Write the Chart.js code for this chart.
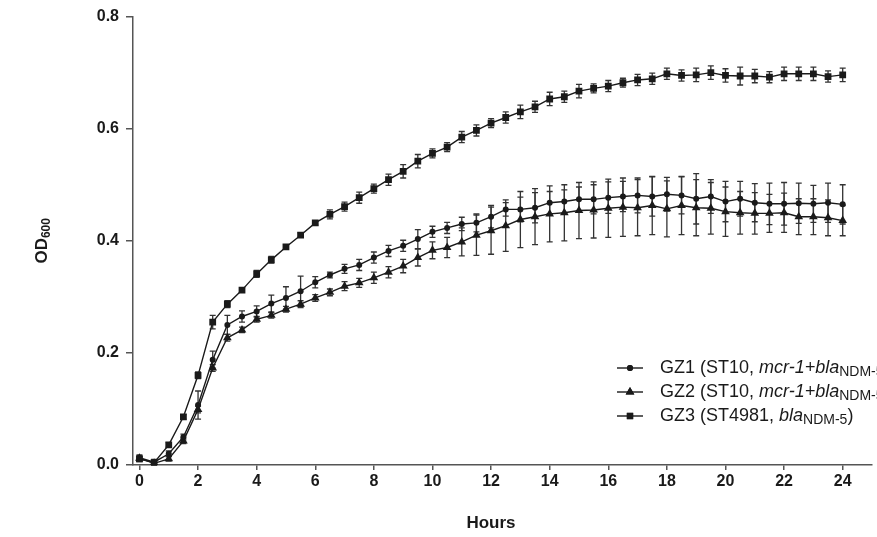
<!DOCTYPE html>
<html>
<head>
<meta charset="utf-8">
<script src="https://cdn.jsdelivr.net/npm/chart.js@4"></script>
<style>
  html, body { margin: 0; padding: 0; background: #fff; overflow: hidden; }
  #wrap { width: 877px; height: 537px; }
</style>
</head>
<body>
<div id="wrap"><canvas id="myChart" width="877" height="537"></canvas></div>
<script>
// sampling times (h)
const hours = [0, 0.5, 1, 1.5, 2, 2.5, 3, 3.5, 4, 4.5, 5, 5.5, 6, 6.5, 7, 7.5, 8, 8.5, 9, 9.5,
  10, 10.5, 11, 11.5, 12, 12.5, 13, 13.5, 14, 14.5, 15, 15.5, 16, 16.5, 17, 17.5, 18, 18.5, 19, 19.5,
  20, 20.5, 21, 21.5, 22, 22.5, 23, 23.5, 24];

// OD600 means
const gz1 = [0.013, 0.005, 0.02, 0.05, 0.107, 0.188, 0.25, 0.265, 0.274, 0.288, 0.298, 0.31,
  0.326, 0.339, 0.35, 0.357, 0.37, 0.382, 0.391, 0.403, 0.416, 0.423, 0.43, 0.432,
  0.443, 0.456, 0.456, 0.459, 0.468, 0.47, 0.474, 0.474, 0.477, 0.479, 0.481, 0.479,
  0.483, 0.481, 0.475, 0.479, 0.47, 0.475, 0.468, 0.466, 0.466, 0.467, 0.466, 0.468, 0.465];
const gz2 = [0.012, 0.003, 0.011, 0.043, 0.099, 0.173, 0.227, 0.241, 0.26, 0.267, 0.278, 0.287,
  0.298, 0.308, 0.319, 0.325, 0.334, 0.344, 0.355, 0.37, 0.383, 0.388, 0.398, 0.41,
  0.418, 0.427, 0.438, 0.443, 0.448, 0.45, 0.454, 0.455, 0.458, 0.46, 0.459, 0.463,
  0.457, 0.463, 0.459, 0.458, 0.452, 0.45, 0.449, 0.449, 0.45, 0.443, 0.443, 0.441, 0.436];
const gz3 = [0.011, 0.004, 0.036, 0.086, 0.16, 0.255, 0.287, 0.312, 0.341, 0.366, 0.389, 0.41,
  0.432, 0.447, 0.461, 0.477, 0.493, 0.509, 0.524, 0.542, 0.556, 0.567, 0.585, 0.597,
  0.61, 0.62, 0.63, 0.639, 0.653, 0.657, 0.667, 0.672, 0.676, 0.682, 0.687, 0.689,
  0.698, 0.695, 0.696, 0.7, 0.695, 0.694, 0.694, 0.692, 0.698, 0.698, 0.698, 0.693, 0.696];

// error bars (+/-)
const gz1Err = [0.005, 0.005, 0.005, 0.005, 0.025, 0.015, 0.017, 0.01, 0.01, 0.015, 0.02, 0.027,
  0.01, 0.005, 0.008, 0.01, 0.01, 0.01, 0.01, 0.017, 0.01, 0.01, 0.012, 0.016,
  0.02, 0.012, 0.022, 0.027, 0.02, 0.021, 0.022, 0.026, 0.028, 0.027, 0.031, 0.035,
  0.03, 0.033, 0.045, 0.03, 0.036, 0.031, 0.034, 0.037, 0.038, 0.036, 0.033, 0.035, 0.035];
const gz2Err = [0.004, 0.004, 0.004, 0.005, 0.006, 0.006, 0.006, 0.005, 0.005, 0.005, 0.005, 0.006,
  0.006, 0.006, 0.008, 0.008, 0.01, 0.01, 0.012, 0.015, 0.015, 0.018, 0.025, 0.036,
  0.042, 0.046, 0.05, 0.05, 0.05, 0.05, 0.05, 0.05, 0.052, 0.052, 0.05, 0.052,
  0.05, 0.052, 0.05, 0.046, 0.044, 0.038, 0.037, 0.034, 0.035, 0.032, 0.032, 0.032, 0.027];
const gz3Err = [0.005, 0.005, 0.004, 0.004, 0.006, 0.012, 0.006, 0.004, 0.006, 0.006, 0.004, 0.004,
  0.004, 0.008, 0.008, 0.01, 0.008, 0.01, 0.012, 0.012, 0.008, 0.008, 0.01, 0.01,
  0.008, 0.01, 0.012, 0.01, 0.012, 0.01, 0.012, 0.008, 0.01, 0.008, 0.01, 0.01,
  0.01, 0.01, 0.012, 0.012, 0.012, 0.016, 0.012, 0.01, 0.012, 0.012, 0.012, 0.01, 0.012];

const xTicks = [0, 2, 4, 6, 8, 10, 12, 14, 16, 18, 20, 22, 24];
const yTicks = [0, 0.2, 0.4, 0.6, 0.8];

const ink = "#1a1a1a";
const axisColor = "#555";
const fontFam = "'Liberation Sans', Arial, sans-serif";

function pts(vals) {
  return hours.map((h, i) => ({ x: h, y: vals[i] }));
}

function mkSet(label, vals, err, style, r) {
  return {
    label: label,
    data: pts(vals),
    err: err,
    borderColor: ink,
    borderWidth: 1.4,
    backgroundColor: ink,
    pointStyle: style,
    pointRadius: r,
    pointBorderWidth: 0,
    pointBackgroundColor: ink,
    tension: 0,
    fill: false,
  };
}

const errorBars = {
  id: "errorBars",
  beforeDatasetsDraw(chart) {
    const ctx = chart.ctx;
    const xs = chart.scales.x;
    const ys = chart.scales.y;
    ctx.save();
    ctx.strokeStyle = "#333";
    ctx.lineWidth = 1.3;
    chart.data.datasets.forEach((ds) => {
      ds.data.forEach((p, i) => {
        const e = ds.err[i];
        const px = xs.getPixelForValue(p.x);
        const top = ys.getPixelForValue(p.y + e);
        const bot = ys.getPixelForValue(Math.max(p.y - e, 0));
        ctx.beginPath();
        ctx.moveTo(px, top);
        ctx.lineTo(px, bot);
        ctx.moveTo(px - 3, top);
        ctx.lineTo(px + 3, top);
        ctx.moveTo(px - 3, bot);
        ctx.lineTo(px + 3, bot);
        ctx.stroke();
      });
    });
    ctx.restore();
  },
};

function drawRuns(ctx, x, y, runs) {
  runs.forEach((r) => {
    ctx.font = r.f;
    ctx.fillText(r.t, x, y + (r.dy || 0));
    x += ctx.measureText(r.t).width;
  });
}

const legendRows = [
  { style: "circle", r: 3, runs: [
    { t: "GZ1 (ST10, ", f: "18px " + fontFam },
    { t: "mcr-1+bla", f: "italic 18px " + fontFam },
    { t: "NDM-5", f: "14px " + fontFam, dy: 4 },
    { t: ")", f: "18px " + fontFam }] },
  { style: "triangle", r: 5, runs: [
    { t: "GZ2 (ST10, ", f: "18px " + fontFam },
    { t: "mcr-1+bla", f: "italic 18px " + fontFam },
    { t: "NDM-5", f: "14px " + fontFam, dy: 4 },
    { t: ")", f: "18px " + fontFam }] },
  { style: "rect", r: 4.5, runs: [
    { t: "GZ3 (ST4981, ", f: "18px " + fontFam },
    { t: "bla", f: "italic 18px " + fontFam },
    { t: "NDM-5", f: "14px " + fontFam, dy: 4 },
    { t: ")", f: "18px " + fontFam }] },
];

const extras = {
  id: "extras",
  afterDraw(chart) {
    const ctx = chart.ctx;
    const area = chart.chartArea;
    ctx.save();
    ctx.fillStyle = ink;

    // x title
    ctx.font = "bold 17px " + fontFam;
    ctx.textAlign = "center";
    ctx.textBaseline = "middle";
    ctx.fillText("Hours", 491, 523);

    // y title, OD600 with subscript
    ctx.save();
    ctx.translate(42, (area.top + area.bottom) / 2);
    ctx.rotate(-Math.PI / 2);
    ctx.textAlign = "left";
    ctx.textBaseline = "middle";
    ctx.font = "bold 17px " + fontFam;
    const w1 = ctx.measureText("OD").width;
    ctx.font = "bold 12px " + fontFam;
    const w2 = ctx.measureText("600").width;
    const sx = -(w1 + w2) / 2;
    ctx.font = "bold 17px " + fontFam;
    ctx.fillText("OD", sx, 0);
    ctx.font = "bold 12px " + fontFam;
    ctx.fillText("600", sx + w1, 5);
    ctx.restore();

    // legend
    ctx.textAlign = "left";
    ctx.textBaseline = "middle";
    legendRows.forEach((row, i) => {
      const y = 368 + i * 24;
      ctx.strokeStyle = ink;
      ctx.lineWidth = 1.4;
      ctx.beginPath();
      ctx.moveTo(617, y);
      ctx.lineTo(643, y);
      ctx.stroke();
      Chart.helpers.drawPoint(ctx, { pointStyle: row.style, radius: row.r, borderWidth: 0 }, 630, y);
      ctx.fill();
      drawRuns(ctx, 660, y, row.runs);
    });
    ctx.restore();
  },
};

const ctx = document.getElementById("myChart");

new Chart(ctx, {
  type: "line",
  data: {
    datasets: [
      mkSet("GZ1", gz1, gz1Err, "circle", 3),
      mkSet("GZ2", gz2, gz2Err, "triangle", 5),
      mkSet("GZ3", gz3, gz3Err, "rect", 4.8),
    ],
  },
  options: {
    responsive: false,
    animation: false,
    layout: { padding: { top: 16, right: 0, bottom: 0, left: 0 } },
    plugins: {
      legend: { display: false },
      tooltip: { enabled: false },
    },
    scales: {
      x: {
        type: "linear",
        min: -0.22,
        max: 25.0,
        afterBuildTicks: (axis) => {
          axis.ticks = xTicks.map((v) => ({ value: v }));
        },
        afterFit: (s) => {
          s.height = 72;
        },
        ticks: {
          autoSkip: false,
          maxRotation: 0,
          padding: 2,
          color: ink,
          font: { family: fontFam, weight: "bold", size: 16 },
          callback: (v) => v,
        },
        grid: { drawOnChartArea: false, tickLength: 5, color: axisColor, lineWidth: 1.5 },
        border: { color: axisColor, width: 1.5 },
      },
      y: {
        min: 0,
        max: 0.8,
        afterBuildTicks: (axis) => {
          axis.ticks = yTicks.map((v) => ({ value: v }));
        },
        afterFit: (s) => {
          s.width = 133;
        },
        ticks: {
          padding: 7,
          color: ink,
          font: { family: fontFam, weight: "bold", size: 16 },
          callback: (v) => Number(v).toFixed(1),
        },
        grid: { drawOnChartArea: false, tickLength: 7, color: axisColor, lineWidth: 1.5 },
        border: { color: axisColor, width: 1.5 },
      },
    },
  },
  plugins: [errorBars, extras],
});
</script>
</body>
</html>
